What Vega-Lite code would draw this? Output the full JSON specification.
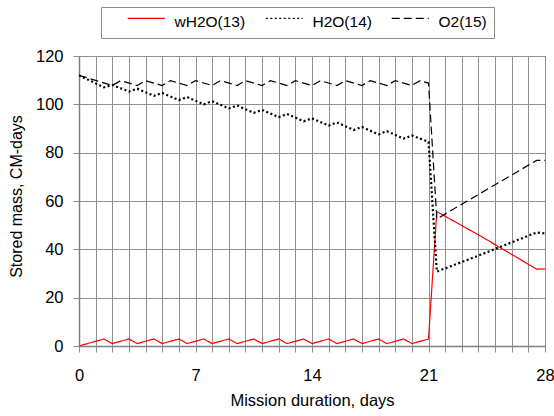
{
  "$schema": "https://vega.github.io/schema/vega-lite/v6.json",
  "width": 466,
  "height": 290,
  "autosize": {"type": "none"},
  "padding": {"left": 79, "top": 56, "right": 9, "bottom": 70},
  "background": "white",
  "config": {
    "font": "Liberation Sans",
    "view": {"stroke": "#8c8c8c", "strokeWidth": 1},
    "axis": {
      "labelFont": "Liberation Sans",
      "titleFont": "Liberation Sans",
      "labelColor": "black",
      "titleColor": "black",
      "titleFontWeight": "normal",
      "gridColor": "#8f8f8f",
      "gridOpacity": 1,
      "gridWidth": 1,
      "tickColor": "#8c8c8c",
      "domainColor": "#808080",
      "domainWidth": 1.5
    },
    "legend": {
      "orient": "none",
      "legendX": 22,
      "legendY": -49,
      "direction": "horizontal",
      "fillColor": "white",
      "strokeColor": "#8c8c8c",
      "padding": 7,
      "symbolType": "M0,-2H20",
      "symbolSize": 13.69,
      "symbolStrokeWidth": 1.3,
      "symbolOffset": 12,
      "labelOffset": 39,
      "labelFont": "Liberation Sans",
      "labelFontSize": 15.5,
      "labelColor": "black",
      "columnPadding": 0
    }
  },
  "data": {
    "values": [
      {"series": "wH2O(13)", "day": 0, "mass": 0},
      {"series": "wH2O(13)", "day": 1.5, "mass": 2.9},
      {"series": "wH2O(13)", "day": 2, "mass": 1.0},
      {"series": "wH2O(13)", "day": 3, "mass": 2.9},
      {"series": "wH2O(13)", "day": 3.5, "mass": 1.0},
      {"series": "wH2O(13)", "day": 4.5, "mass": 2.9},
      {"series": "wH2O(13)", "day": 5, "mass": 1.0},
      {"series": "wH2O(13)", "day": 6, "mass": 2.9},
      {"series": "wH2O(13)", "day": 6.5, "mass": 1.0},
      {"series": "wH2O(13)", "day": 7.5, "mass": 2.9},
      {"series": "wH2O(13)", "day": 8, "mass": 1.0},
      {"series": "wH2O(13)", "day": 9, "mass": 2.9},
      {"series": "wH2O(13)", "day": 9.5, "mass": 1.0},
      {"series": "wH2O(13)", "day": 10.5, "mass": 2.9},
      {"series": "wH2O(13)", "day": 11, "mass": 1.0},
      {"series": "wH2O(13)", "day": 12, "mass": 2.9},
      {"series": "wH2O(13)", "day": 12.5, "mass": 1.0},
      {"series": "wH2O(13)", "day": 13.5, "mass": 2.9},
      {"series": "wH2O(13)", "day": 14, "mass": 1.0},
      {"series": "wH2O(13)", "day": 15, "mass": 2.9},
      {"series": "wH2O(13)", "day": 15.5, "mass": 1.0},
      {"series": "wH2O(13)", "day": 16.5, "mass": 2.9},
      {"series": "wH2O(13)", "day": 17, "mass": 1.0},
      {"series": "wH2O(13)", "day": 18, "mass": 2.9},
      {"series": "wH2O(13)", "day": 18.5, "mass": 1.0},
      {"series": "wH2O(13)", "day": 19.5, "mass": 2.9},
      {"series": "wH2O(13)", "day": 20, "mass": 1.0},
      {"series": "wH2O(13)", "day": 21, "mass": 2.9},
      {"series": "wH2O(13)", "day": 21.5, "mass": 55.6},
      {"series": "wH2O(13)", "day": 24, "mass": 46.0},
      {"series": "wH2O(13)", "day": 27.5, "mass": 31.8},
      {"series": "wH2O(13)", "day": 28, "mass": 31.8},

      {"series": "H2O(14)", "day": 0, "mass": 112},
      {"series": "H2O(14)", "day": 1.5, "mass": 107.0},
      {"series": "H2O(14)", "day": 2, "mass": 108.0},
      {"series": "H2O(14)", "day": 3, "mass": 105.3},
      {"series": "H2O(14)", "day": 3.5, "mass": 106.5},
      {"series": "H2O(14)", "day": 4.5, "mass": 103.5},
      {"series": "H2O(14)", "day": 5, "mass": 104.7},
      {"series": "H2O(14)", "day": 6, "mass": 101.8},
      {"series": "H2O(14)", "day": 6.5, "mass": 103.0},
      {"series": "H2O(14)", "day": 7.5, "mass": 100.0},
      {"series": "H2O(14)", "day": 8, "mass": 101.3},
      {"series": "H2O(14)", "day": 9, "mass": 98.3},
      {"series": "H2O(14)", "day": 9.5, "mass": 99.5},
      {"series": "H2O(14)", "day": 10.5, "mass": 96.5},
      {"series": "H2O(14)", "day": 11, "mass": 97.7},
      {"series": "H2O(14)", "day": 12, "mass": 94.7},
      {"series": "H2O(14)", "day": 12.5, "mass": 96.0},
      {"series": "H2O(14)", "day": 13.5, "mass": 93.0},
      {"series": "H2O(14)", "day": 14, "mass": 94.2},
      {"series": "H2O(14)", "day": 15, "mass": 91.2},
      {"series": "H2O(14)", "day": 15.5, "mass": 92.5},
      {"series": "H2O(14)", "day": 16.5, "mass": 89.4},
      {"series": "H2O(14)", "day": 17, "mass": 90.6},
      {"series": "H2O(14)", "day": 18, "mass": 87.6},
      {"series": "H2O(14)", "day": 18.5, "mass": 88.9},
      {"series": "H2O(14)", "day": 19.5, "mass": 85.8},
      {"series": "H2O(14)", "day": 20, "mass": 87.1},
      {"series": "H2O(14)", "day": 21, "mass": 84.5},
      {"series": "H2O(14)", "day": 21.5, "mass": 30.8},
      {"series": "H2O(14)", "day": 24, "mass": 37.4},
      {"series": "H2O(14)", "day": 27.5, "mass": 47.0},
      {"series": "H2O(14)", "day": 28, "mass": 46.6},

      {"series": "O2(15)", "day": 0, "mass": 112},
      {"series": "O2(15)", "day": 2, "mass": 107.8},
      {"series": "O2(15)", "day": 2.5, "mass": 109.8},
      {"series": "O2(15)", "day": 3.5, "mass": 107.8},
      {"series": "O2(15)", "day": 4, "mass": 109.8},
      {"series": "O2(15)", "day": 5, "mass": 107.8},
      {"series": "O2(15)", "day": 5.5, "mass": 109.8},
      {"series": "O2(15)", "day": 6.5, "mass": 107.8},
      {"series": "O2(15)", "day": 7, "mass": 109.8},
      {"series": "O2(15)", "day": 8, "mass": 107.8},
      {"series": "O2(15)", "day": 8.5, "mass": 109.8},
      {"series": "O2(15)", "day": 9.5, "mass": 107.8},
      {"series": "O2(15)", "day": 10, "mass": 109.8},
      {"series": "O2(15)", "day": 11, "mass": 107.8},
      {"series": "O2(15)", "day": 11.5, "mass": 109.8},
      {"series": "O2(15)", "day": 12.5, "mass": 107.8},
      {"series": "O2(15)", "day": 13, "mass": 109.8},
      {"series": "O2(15)", "day": 14, "mass": 107.8},
      {"series": "O2(15)", "day": 14.5, "mass": 109.8},
      {"series": "O2(15)", "day": 15.5, "mass": 107.8},
      {"series": "O2(15)", "day": 16, "mass": 109.8},
      {"series": "O2(15)", "day": 17, "mass": 107.8},
      {"series": "O2(15)", "day": 17.5, "mass": 109.8},
      {"series": "O2(15)", "day": 18.5, "mass": 107.8},
      {"series": "O2(15)", "day": 19, "mass": 109.8},
      {"series": "O2(15)", "day": 20, "mass": 107.8},
      {"series": "O2(15)", "day": 20.5, "mass": 109.8},
      {"series": "O2(15)", "day": 21, "mass": 108.8},
      {"series": "O2(15)", "day": 21.5, "mass": 52.6},
      {"series": "O2(15)", "day": 24, "mass": 62.7},
      {"series": "O2(15)", "day": 27.5, "mass": 76.8},
      {"series": "O2(15)", "day": 28, "mass": 76.8}
    ]
  },
  "encoding": {
    "x": {
      "field": "day",
      "type": "quantitative",
      "scale": {"domain": [0, 28], "nice": false, "zero": false},
      "axis": {
        "title": "Mission duration, days",
        "values": [0,1,2,3,4,5,6,7,8,9,10,11,12,13,14,15,16,17,18,19,20,21,22,23,24,25,26,27,28],
        "labelExpr": "datum.value % 7 === 0 ? datum.label : ''",
        "labelFontSize": 16.5,
        "labelPadding": 15,
        "labelFlush": false,
        "tickSize": 6,
        "titleFontSize": 16.5,
        "titlePadding": 9
      }
    },
    "y": {
      "field": "mass",
      "type": "quantitative",
      "scale": {"domain": [0, 120], "nice": false},
      "axis": {
        "title": "Stored mass, CM-days",
        "values": [0, 20, 40, 60, 80, 100, 120],
        "labelFontSize": 16.5,
        "labelPadding": 10,
        "tickSize": 6,
        "titleFontSize": 16,
        "titleAngle": -90,
        "titleX": -63,
        "titleY": 140,
        "titleBaseline": "middle",
        "titleAlign": "center"
      }
    },
    "color": {
      "field": "series",
      "type": "nominal",
      "scale": {
        "domain": ["wH2O(13)", "H2O(14)", "O2(15)"],
        "range": ["#ff0000", "#000000", "#000000"]
      },
      "legend": {"title": null}
    },
    "strokeDash": {
      "field": "series",
      "type": "nominal",
      "scale": {
        "domain": ["wH2O(13)", "H2O(14)", "O2(15)"],
        "range": [[1, 0], [2, 2.5], [8, 4]]
      },
      "legend": {"title": null}
    }
  },
  "layer": [
    {
      "transform": [{"filter": "datum.series === 'wH2O(13)'"}],
      "mark": {"type": "line", "clip": true, "strokeWidth": 1.2}
    },
    {
      "transform": [{"filter": "datum.series === 'H2O(14)'"}],
      "mark": {"type": "line", "clip": true, "strokeWidth": 2.2}
    },
    {
      "transform": [{"filter": "datum.series === 'O2(15)'"}],
      "mark": {"type": "line", "clip": true, "strokeWidth": 1.2}
    }
  ]
}
